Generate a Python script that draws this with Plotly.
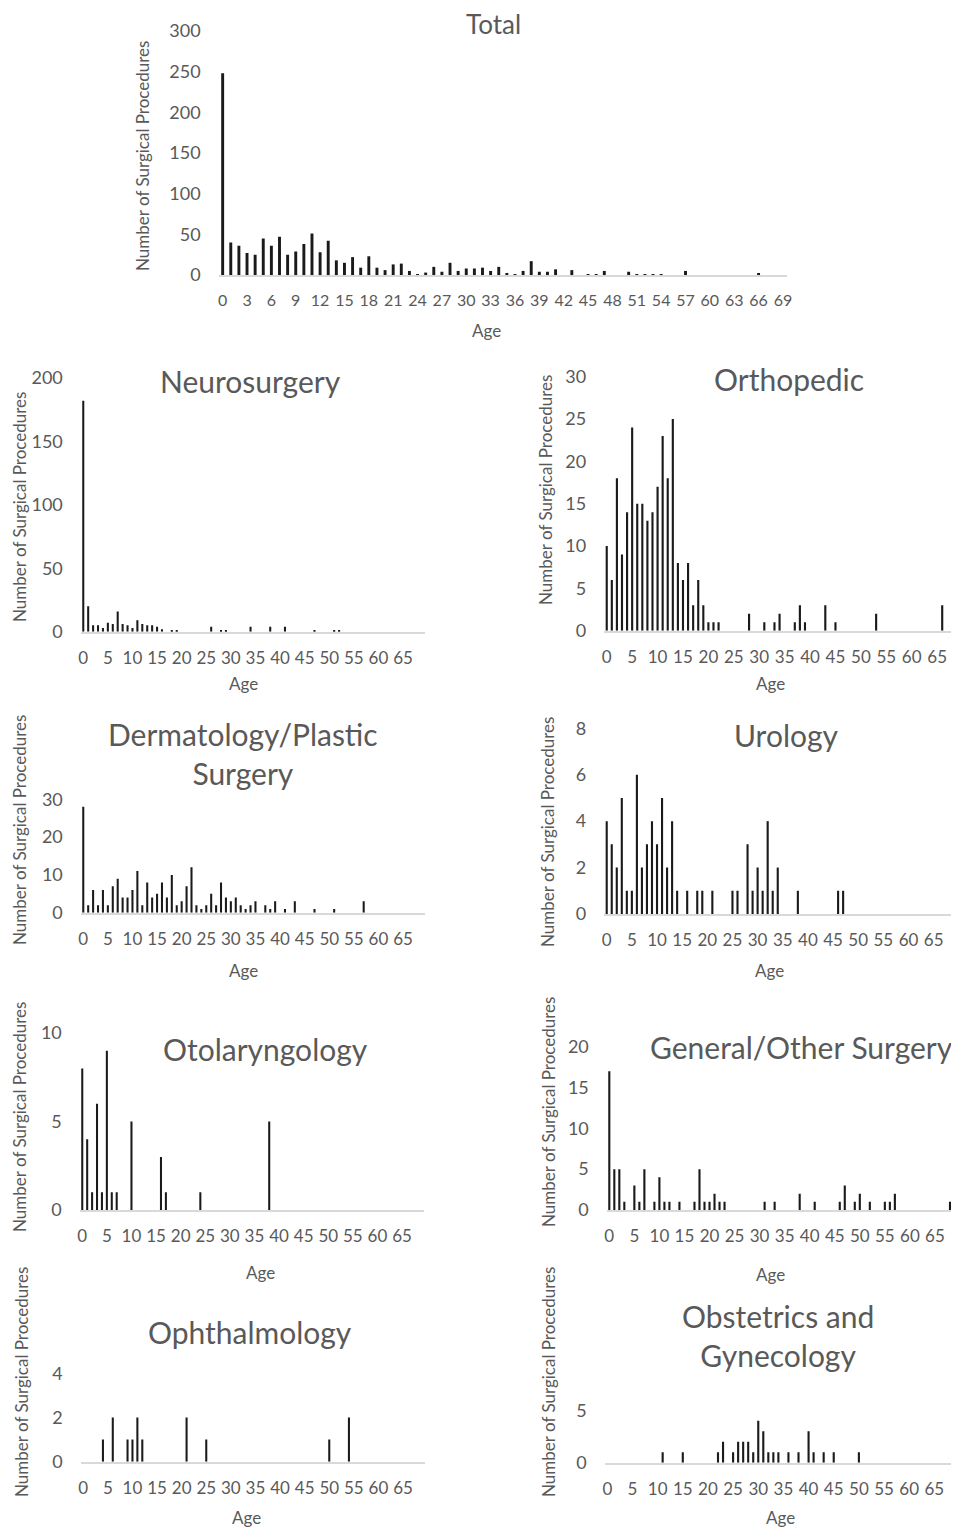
import plotly.graph_objects as go

W, H = 959, 1527
OFF = 8  # page body margin in the browser

# ---------------- data ----------------
total_ages = list(range(70))
total_counts = [248, 40, 36, 27, 25, 45, 36, 47, 25, 29,
                38, 51, 28, 42, 18, 15, 22, 9, 23, 9,
                6, 13, 14, 5, 1, 3, 10, 4, 15, 5,
                8, 8, 9, 5, 10, 2, 1, 5, 17, 4,
                4, 7, 0, 6, 0, 1, 1, 5, 0, 0,
                4, 1, 1, 1, 1, 0, 0, 5, 0, 0,
                0, 0, 0, 0, 0, 0, 2, 0, 0, 0]

neuro_ages = [0, 1, 2, 3, 4, 5, 6, 7, 8, 9, 10, 11, 12, 13, 14, 15, 16, 18, 19, 26, 28, 29, 34, 38, 41, 47, 51, 52]
neuro_counts = [182, 20, 5, 5, 3, 7, 6, 16, 6, 5, 3, 9, 6, 5, 5, 4, 2, 1, 1, 4, 1, 1, 4, 4, 4, 1, 1, 1]

ortho_ages = [0, 1, 2, 3, 4, 5, 6, 7, 8, 9, 10, 11, 12, 13, 14, 15, 16, 17, 18, 19, 20, 21, 22,
              28, 31, 33, 34, 37, 38, 39, 43, 45, 53, 66, 69]
ortho_counts = [10, 6, 18, 9, 14, 24, 15, 15, 13, 14, 17, 23, 18, 25, 8, 6, 8, 3, 6, 3, 1, 1, 1,
                2, 1, 1, 2, 1, 3, 1, 3, 1, 2, 3, 1]

derm_ages = [0, 1, 2, 3, 4, 5, 6, 7, 8, 9, 10, 11, 12, 13, 14, 15, 16, 17, 18, 19,
             20, 21, 22, 23, 24, 25, 26, 27, 28, 29, 30, 31, 32, 33, 34, 35,
             37, 38, 39, 41, 43, 47, 51, 57]
derm_counts = [28, 2, 6, 2, 6, 2, 7, 9, 4, 4, 6, 11, 2, 8, 4, 5, 8, 4, 10, 2,
               3, 7, 12, 2, 1, 2, 5, 2, 8, 4, 3, 4, 2, 1, 2, 3,
               2, 1, 3, 1, 3, 1, 1, 3]

uro_ages = [0, 1, 2, 3, 4, 5, 6, 7, 8, 9, 10, 11, 12, 13, 14, 16, 18, 19, 21, 25, 26,
            28, 29, 30, 31, 32, 33, 34, 38, 46, 47]
uro_counts = [4, 3, 2, 5, 1, 1, 6, 2, 3, 4, 3, 5, 2, 4, 1, 1, 1, 1, 1, 1, 1,
              3, 1, 2, 1, 4, 1, 2, 1, 1, 1]

oto_ages = [0, 1, 2, 3, 4, 5, 6, 7, 10, 16, 17, 24, 38]
oto_counts = [8, 4, 1, 6, 1, 9, 1, 1, 5, 3, 1, 1, 5]

gen_ages = [0, 1, 2, 3, 5, 6, 7, 9, 10, 11, 12, 14, 17, 18, 19, 20, 21, 22, 23, 31,
            33, 38, 41, 46, 47, 49, 50, 52, 55, 56, 57, 68]
gen_counts = [17, 5, 5, 1, 3, 1, 5, 1, 4, 1, 1, 1, 1, 5, 1, 1, 2, 1, 1, 1,
              1, 2, 1, 1, 3, 1, 2, 1, 1, 1, 2, 1]

oph_ages = [4, 6, 9, 10, 11, 12, 21, 25, 50, 54]
oph_counts = [1, 2, 1, 1, 2, 1, 2, 1, 1, 2]

obgyn_ages = [11, 15, 22, 23, 25, 26, 27, 28, 29, 30, 31, 32, 33, 34, 36, 38, 40, 41, 43, 45, 50]
obgyn_counts = [1, 1, 1, 2, 1, 2, 2, 2, 1, 4, 3, 1, 1, 1, 1, 1, 3, 1, 1, 1, 1]

titles = ["Total", "Neurosurgery", "Orthopedic", "Dermatology/Plastic<br>Surgery", "Urology",
          "Otolaryngology", "General/Other Surgery", "Ophthalmology", "Obstetrics and<br>Gynecology"]
y_title = "Number of Surgical Procedures"
x_title = "Age"
total_ticks = list(range(0, 70, 3))
panel_ticks = list(range(0, 70, 5))

# ---------------- layout geometry (screen pixels) ----------------
panels = [
    (total_ages, total_counts, 300, 50, 218.6, 787.0, 275.0, 31.0, (493, 24), (142, 156), (486, 331), total_ticks, 0.36),
    (neuro_ages, neuro_counts, 200, 50, 80.8, 425.2, 631.7, 378.0, (250, 381), (19, 507), (243, 684), panel_ticks, 0.42),
    (ortho_ages, ortho_counts, 30, 5, 604.2, 960.0, 630.7, 376.7, (789, 379), (546, 490), (770, 684), panel_ticks, 0.42),
    (derm_ages, derm_counts, 30, 10, 80.8, 425.2, 912.7, 799.3, (243, 753), (19, 830), (243, 971), panel_ticks, 0.42),
    (uro_ages, uro_counts, 8, 2, 604.2, 956.3, 914.0, 728.3, (786, 735), (548, 832), (769, 971), panel_ticks, 0.42),
    (oto_ages, oto_counts, 10, 5, 79.8, 424.2, 1210.0, 1033.0, (265, 1049), (19, 1117), (260, 1272), panel_ticks, 0.42),
    (gen_ages, gen_counts, 20, 5, 606.8, 957.5, 1210.0, 1046.7, (801, 1047), (548, 1112), (770, 1274), panel_ticks, 0.42),
    (oph_ages, oph_counts, 4, 2, 80.8, 425.2, 1461.7, 1373.3, (250, 1332), (21, 1382), (246, 1517), panel_ticks, 0.42),
    (obgyn_ages, obgyn_counts, 5, 5, 604.8, 957.0, 1462.7, 1410.2, (778, 1335), (548, 1382), (780, 1517), panel_ticks, 0.42),
]

FONT = "Lato, 'Open Sans', sans-serif"
GREY = "#595959"
BAR = "#1a1a1a"
AXIS = "#d9d9d9"

fig = go.Figure()
annotations = []
layout = dict(
    template="none",
    width=W, height=H, autosize=False,
    margin=dict(l=0, r=0, t=0, b=0, pad=0, autoexpand=False),
    paper_bgcolor="white", plot_bgcolor="white",
    showlegend=False,
    font=dict(family=FONT, color=GREY),
)

def px_x(p):
    return (p - OFF) / W

def px_y(p):
    return 1 - (p - OFF) / H

for i, (ages, counts, ymax, dtick, xl, xr, y0, ym, txy, ytxy, axy, xticks, bw) in enumerate(panels):
    n = "" if i == 0 else str(i + 1)
    fig.add_trace(go.Bar(x=ages, y=counts, xaxis="x" + n, yaxis="y" + n,
                         width=bw, marker=dict(color=BAR, line=dict(width=0))))
    xtick_size = 16 if i == 0 else 17
    layout["xaxis" + n] = dict(
        domain=[px_x(xl), min(px_x(xr), 1.0)], range=[-0.5, 69.5], anchor="y" + n,
        tickmode="array", tickvals=xticks, ticktext=[str(v) for v in xticks],
        showline=True, linecolor=AXIS, linewidth=1.5, showgrid=False, zeroline=False,
        ticks="", tickfont=dict(size=xtick_size, color=GREY, family=FONT), ticklabelstandoff=10,
        automargin=False, fixedrange=True,
    )
    layout["yaxis" + n] = dict(
        domain=[px_y(y0), px_y(ym)], range=[0, ymax], anchor="x" + n,
        tickmode="linear", tick0=0, dtick=dtick,
        showline=False, showgrid=False, zeroline=False, ticks="",
        tickfont=dict(size=18, color=GREY, family=FONT), ticklabelstandoff=17,
        automargin=False, fixedrange=True,
    )
    annotations.append(dict(text=titles[i], x=px_x(txy[0]), y=px_y(txy[1]), xref="paper", yref="paper",
                            showarrow=False, xanchor="center", yanchor="middle",
                            font=dict(size=26 if i == 0 else 30, color=GREY, family=FONT)))
    annotations.append(dict(text=y_title, x=px_x(ytxy[0]), y=px_y(ytxy[1]), xref="paper", yref="paper",
                            showarrow=False, xanchor="center", yanchor="middle", textangle=-90,
                            font=dict(size=17, color=GREY, family=FONT)))
    annotations.append(dict(text=x_title, x=px_x(axy[0]), y=px_y(axy[1]), xref="paper", yref="paper",
                            showarrow=False, xanchor="center", yanchor="middle",
                            font=dict(size=17, color=GREY, family=FONT)))

layout["annotations"] = annotations
fig.update_layout(**layout)
fig.write_html("out.html")
